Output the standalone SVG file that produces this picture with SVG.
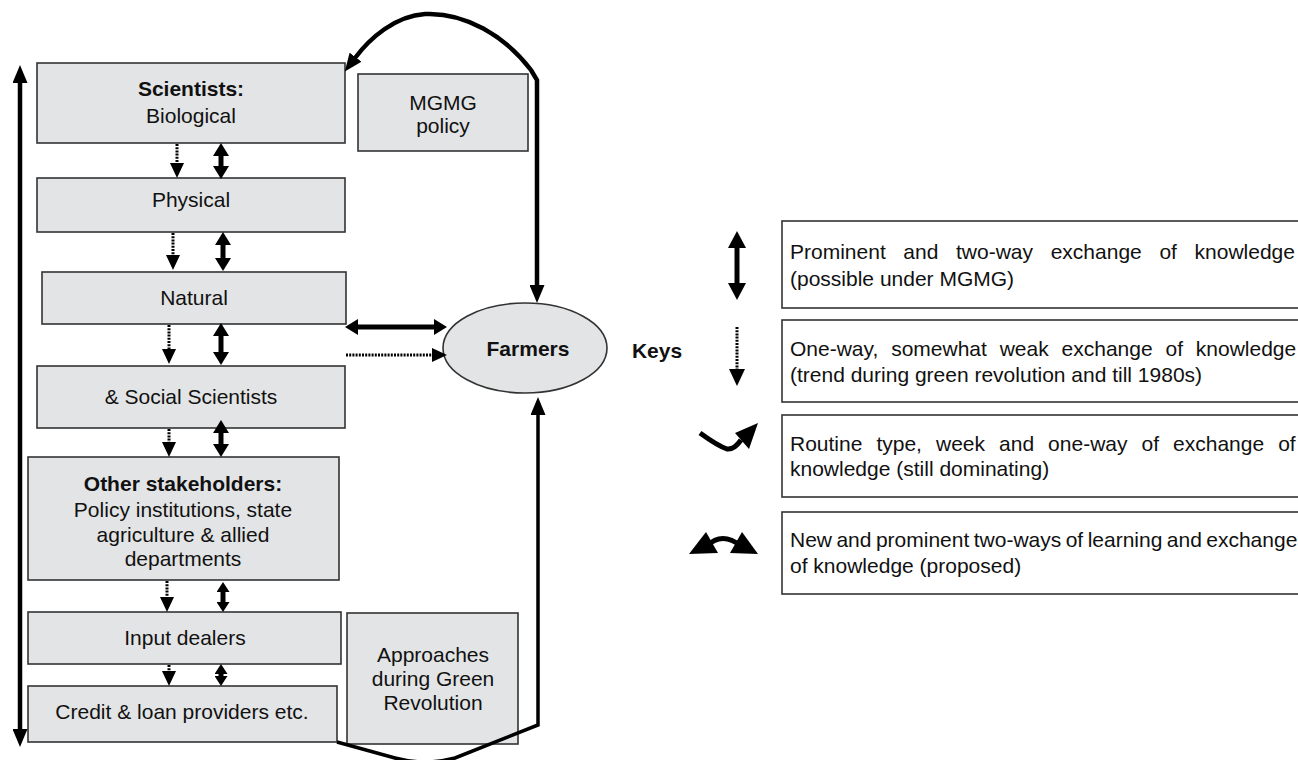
<svg xmlns="http://www.w3.org/2000/svg" width="1298" height="760" viewBox="0 0 1298 760">
<style>
  text { font-family: "Liberation Sans", Arial, Helvetica, sans-serif; font-size: 21px; fill: #111; }
  .b { font-weight: bold; }
  .c { text-anchor: middle; }
  .box { fill: #e3e4e5; stroke: #333; stroke-width: 1.6; }
  .key { fill: #fff; stroke: #333; stroke-width: 1.6; }
  .thick { stroke: #000; stroke-width: 5; fill: none; }
  .long { stroke: #000; stroke-width: 4.5; fill: none; }
  .loop { stroke: #000; stroke-width: 3.5; fill: none; }
  .dot { stroke: #000; stroke-width: 3; stroke-dasharray: 2 1.2; fill: none; }
</style>
<defs>
  <marker id="mBig" viewBox="0 0 13 16" refX="1" refY="8" markerWidth="13" markerHeight="16" markerUnits="userSpaceOnUse" orient="auto-start-reverse">
    <path d="M0,0 L13,8 L0,16 z" fill="#000"/>
  </marker>
  <marker id="mKey" viewBox="0 0 17 18" refX="1" refY="9" markerWidth="17" markerHeight="18" markerUnits="userSpaceOnUse" orient="auto-start-reverse">
    <path d="M0,0 L17,9 L0,18 z" fill="#000"/>
  </marker>
  <marker id="mDot" viewBox="0 0 15 14" refX="1" refY="7" markerWidth="15" markerHeight="14" markerUnits="userSpaceOnUse" orient="auto">
    <path d="M0,0 L15,7 L0,14 z" fill="#000"/>
  </marker>
  <marker id="mDotKey" viewBox="0 0 17 16" refX="1" refY="8" markerWidth="17" markerHeight="16" markerUnits="userSpaceOnUse" orient="auto">
    <path d="M0,0 L17,8 L0,16 z" fill="#000"/>
  </marker>
  <marker id="mSmall" viewBox="0 0 10 13" refX="1" refY="6.5" markerWidth="10" markerHeight="13" markerUnits="userSpaceOnUse" orient="auto-start-reverse">
    <path d="M0,0 L10,6.5 L0,13 z" fill="#000"/>
  </marker>
  <marker id="mLong" viewBox="0 0 18 15" refX="1" refY="7.5" markerWidth="18" markerHeight="15" markerUnits="userSpaceOnUse" orient="auto-start-reverse">
    <path d="M0,0 L18,7.5 L0,15 z" fill="#000"/>
  </marker>
</defs>

<g id="scientists">
  <rect class="box" x="37" y="63" width="308" height="80"/>
  <text class="c b" x="191" y="96">Scientists:</text>
  <text class="c" x="191" y="123">Biological</text>
</g>
<g id="mgmg">
  <rect class="box" x="358" y="74" width="170" height="77"/>
  <text class="c" x="443" y="110">MGMG</text>
  <text class="c" x="443" y="133">policy</text>
</g>
<g id="physical">
  <rect class="box" x="37" y="178" width="308" height="54"/>
  <text class="c" x="191" y="207">Physical</text>
</g>
<g id="natural">
  <rect class="box" x="42" y="272" width="304" height="52"/>
  <text class="c" x="194" y="305">Natural</text>
</g>
<g id="social">
  <rect class="box" x="37" y="366" width="308" height="62"/>
  <text class="c" x="191" y="404">&amp; Social Scientists</text>
</g>
<g id="other">
  <rect class="box" x="28" y="457" width="311" height="123"/>
  <text class="c b" x="183" y="491">Other stakeholders:</text>
  <text class="c" x="183" y="517">Policy institutions, state</text>
  <text class="c" x="183" y="542">agriculture &amp; allied</text>
  <text class="c" x="183" y="566">departments</text>
</g>
<g id="input">
  <rect class="box" x="28" y="612" width="313" height="52"/>
  <text class="c" x="185" y="645">Input dealers</text>
</g>
<g id="credit">
  <rect class="box" x="28" y="686" width="309" height="56"/>
  <text class="c" x="182" y="719">Credit &amp; loan providers etc.</text>
</g>
<g id="approaches">
  <rect class="box" x="347" y="613" width="171" height="131"/>
  <text class="c" x="433" y="662">Approaches</text>
  <text class="c" x="433" y="686">during Green</text>
  <text class="c" x="433" y="710">Revolution</text>
</g>
<g id="farmers">
  <ellipse class="box" cx="525" cy="348" rx="82" ry="45"/>
  <text class="c b" x="528" y="356">Farmers</text>
</g>
<g id="keys-label">
  <text class="c b" x="657" y="358">Keys</text>
</g>

<g id="connectors">
  <!-- left long arrow -->
  <line class="long" x1="20" y1="82" x2="20" y2="730" marker-start="url(#mLong)" marker-end="url(#mLong)"/>
  <!-- column arrows -->
  <line class="dot" x1="177" y1="144" x2="177" y2="164" marker-end="url(#mDot)"/>
  <line class="thick" x1="221" y1="155" x2="221" y2="167" marker-start="url(#mBig)" marker-end="url(#mBig)"/>
  <line class="dot" x1="173" y1="233" x2="173" y2="256" marker-end="url(#mDot)"/>
  <line class="thick" x1="223" y1="244" x2="223" y2="259" marker-start="url(#mBig)" marker-end="url(#mBig)"/>
  <line class="dot" x1="169" y1="325" x2="169" y2="350" marker-end="url(#mDot)"/>
  <line class="thick" x1="221" y1="335" x2="221" y2="353" marker-start="url(#mBig)" marker-end="url(#mBig)"/>
  <line class="dot" x1="169" y1="429" x2="169" y2="443" marker-end="url(#mDot)"/>
  <line class="thick" x1="221" y1="432" x2="221" y2="445" marker-start="url(#mBig)" marker-end="url(#mBig)"/>
  <line class="dot" x1="167" y1="581" x2="167" y2="598" marker-end="url(#mDot)"/>
  <line class="thick" x1="223" y1="591" x2="223" y2="603" stroke-width="4" marker-start="url(#mSmall)" marker-end="url(#mSmall)"/>
  <line class="dot" x1="169" y1="665" x2="169" y2="672" marker-end="url(#mDot)"/>
  <line class="thick" x1="221" y1="673" x2="221" y2="677" stroke-width="3" marker-start="url(#mSmall)" marker-end="url(#mSmall)"/>
  <!-- to farmers -->
  <line class="thick" x1="357" y1="327" x2="435" y2="327" marker-start="url(#mBig)" marker-end="url(#mBig)"/>
  <line class="dot" x1="346" y1="355" x2="433" y2="355" marker-end="url(#mDot)"/>
  <!-- top loop: farmers <-> scientists -->
  <path class="long" d="M537,286 L537,80 L531,70 C505,36 465,12 425,14 C395,16 370,38 355,58" marker-start="url(#mLong)" marker-end="url(#mLong)"/>
  <!-- bottom loop: credit -> farmers -->
  <path class="loop" d="M337,742 L395,758 Q425,766 455,758 L538,725 L538,414" marker-end="url(#mLong)"/>
</g>

<g id="key1">
  <line class="thick" x1="737" y1="247" x2="737" y2="284" marker-start="url(#mKey)" marker-end="url(#mKey)"/>
  <rect class="key" x="782" y="221" width="530" height="87"/>
  <text x="790" y="259" word-spacing="11.8">Prominent and two-way exchange of knowledge</text>
  <text x="790" y="286">(possible under MGMG)</text>
</g>
<g id="key2">
  <line class="dot" x1="737" y1="327" x2="737" y2="370" stroke-width="3.5" marker-end="url(#mDotKey)"/>
  <rect class="key" x="782" y="320" width="530" height="82"/>
  <text x="790" y="356" word-spacing="7">One-way, somewhat weak exchange of knowledge</text>
  <text x="790" y="382">(trend during green revolution and till 1980s)</text>
</g>
<g id="key3">
  <path class="thick" d="M700,433 Q718,446 727,449 Q734,450 741,440"/>
  <polygon points="758,423 749,449 735,433" fill="#000"/>
  <rect class="key" x="782" y="415" width="530" height="82"/>
  <text x="790" y="451" word-spacing="8.2">Routine type, week and one-way of exchange of</text>
  <text x="790" y="476">knowledge (still dominating)</text>
</g>
<g id="key4">
  <path class="thick" d="M707,546 Q722,531 741,546" stroke-width="5.5"/>
  <polygon points="689,554 706,532 718,553" fill="#000"/>
  <polygon points="730,553 742,532 758,554" fill="#000"/>
  <rect class="key" x="782" y="512" width="530" height="82"/>
  <text x="790" y="547" word-spacing="-1.4">New and prominent two-ways of learning and exchange</text>
  <text x="790" y="573">of knowledge (proposed)</text>
</g>
</svg>
